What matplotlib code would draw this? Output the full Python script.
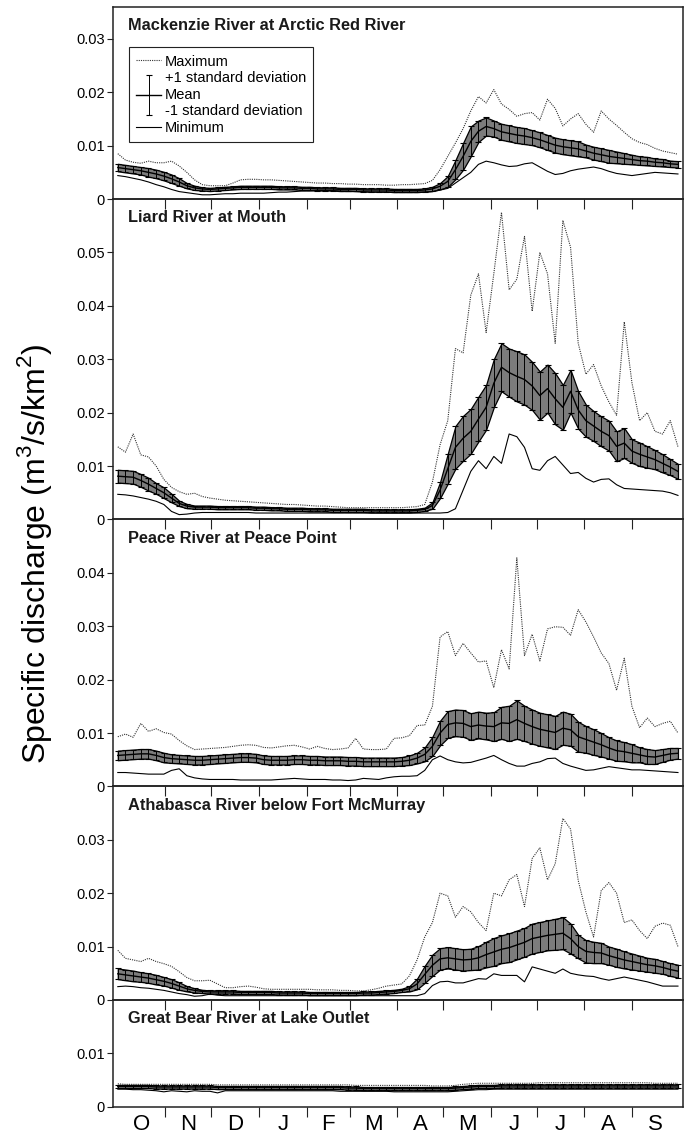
import numpy as np
import matplotlib
matplotlib.use("Agg")
import matplotlib.pyplot as plt
from matplotlib.container import ErrorbarContainer
from matplotlib.legend_handler import HandlerErrorbar

plt.rcParams["font.family"] = ["Liberation Sans", "DejaVu Sans"]
plt.rcParams["mathtext.fontset"] = "custom"
plt.rcParams["mathtext.rm"] = "Liberation Sans"

# day of the water year (0 = 1 October), read every 5 days
days = np.arange(0, 366, 5)

month_names = ["O", "N", "D", "J", "F", "M", "A", "M", "J", "J", "A", "S"]
month_starts = [0, 31, 61, 92, 123, 151, 182, 212, 243, 273, 304, 335, 365]

titles = ["Mackenzie River at Arctic Red River", "Liard River at Mouth",
          "Peace River at Peace Point", "Athabasca River below Fort McMurray",
          "Great Bear River at Lake Outlet"]
y_top = [0.036, 0.06, 0.05, 0.04, 0.02]
y_last_tick = [0.03, 0.05, 0.04, 0.03, 0.01]

# Mackenzie River at Arctic Red River
mk_max = [0.0085, 0.0073, 0.0069, 0.0067, 0.0071, 0.0068, 0.0068, 0.0071, 0.0062, 0.0050,
          0.0036, 0.0027, 0.0025, 0.0025, 0.0025, 0.0030, 0.0036, 0.0037, 0.0037, 0.0036,
          0.0036, 0.0035, 0.0034, 0.0033, 0.0032, 0.0031, 0.0030, 0.0030, 0.0029, 0.0029,
          0.0028, 0.0028, 0.0027, 0.0027, 0.0027, 0.0026, 0.0026, 0.0027, 0.0027, 0.0028,
          0.0029, 0.0035, 0.0055, 0.0080, 0.0105, 0.0132, 0.0165, 0.0192, 0.0180, 0.0205,
          0.0178, 0.0168, 0.0155, 0.0160, 0.0162, 0.0148, 0.0187, 0.0170, 0.0137, 0.0150,
          0.0160, 0.0140, 0.0125, 0.0165, 0.0150, 0.0138, 0.0125, 0.0113, 0.0106, 0.0102,
          0.0095, 0.0090, 0.0087, 0.0084]
mk_mean = [0.0059, 0.0057, 0.0055, 0.0053, 0.0050, 0.0047, 0.0043, 0.0038, 0.0032, 0.0025,
           0.0021, 0.0019, 0.0018, 0.0019, 0.0020, 0.0021, 0.0022, 0.0022, 0.0022, 0.0022,
           0.0022, 0.0021, 0.0021, 0.0021, 0.0020, 0.0020, 0.0019, 0.0019, 0.0019, 0.0018,
           0.0018, 0.0018, 0.0017, 0.0017, 0.0017, 0.0017, 0.0016, 0.0016, 0.0016, 0.0016,
           0.0017, 0.0019, 0.0024, 0.0033, 0.0055, 0.0080, 0.0108, 0.0127, 0.0136, 0.0132,
           0.0126, 0.0123, 0.0120, 0.0118, 0.0115, 0.0111, 0.0106, 0.0101, 0.0098, 0.0096,
           0.0094, 0.0090, 0.0086, 0.0083, 0.0080, 0.0078, 0.0076, 0.0074, 0.0072, 0.0071,
           0.0069, 0.0068, 0.0066, 0.0065]
mk_sd = [0.0007, 0.0007, 0.0007, 0.0007, 0.0008, 0.0008, 0.0008, 0.0008, 0.0007, 0.0005,
         0.0004, 0.0003, 0.0003, 0.0003, 0.0003, 0.0003, 0.0003, 0.0003, 0.0003, 0.0003,
         0.0003, 0.0003, 0.0003, 0.0003, 0.0003, 0.0003, 0.0003, 0.0003, 0.0003, 0.0003,
         0.0003, 0.0003, 0.0003, 0.0003, 0.0003, 0.0003, 0.0003, 0.0003, 0.0003, 0.0003,
         0.0003, 0.0004, 0.0006, 0.0010, 0.0018, 0.0025, 0.0028, 0.0020, 0.0017, 0.0015,
         0.0015, 0.0015, 0.0015, 0.0015, 0.0014, 0.0014, 0.0014, 0.0014, 0.0014, 0.0014,
         0.0014, 0.0012, 0.0012, 0.0012, 0.0012, 0.0011, 0.0010, 0.0009, 0.0008, 0.0008,
         0.0007, 0.0007, 0.0006, 0.0006]
mk_min = [0.0044, 0.0042, 0.0039, 0.0036, 0.0032, 0.0027, 0.0023, 0.0018, 0.0014, 0.0012,
          0.0010, 0.0008, 0.0008, 0.0009, 0.0010, 0.0010, 0.0011, 0.0011, 0.0011, 0.0011,
          0.0012, 0.0013, 0.0013, 0.0014, 0.0015, 0.0015, 0.0016, 0.0016, 0.0016, 0.0015,
          0.0015, 0.0014, 0.0014, 0.0013, 0.0013, 0.0013, 0.0013, 0.0013, 0.0013, 0.0013,
          0.0013, 0.0014, 0.0017, 0.0020, 0.0030, 0.0040, 0.0050, 0.0065, 0.0071, 0.0068,
          0.0064, 0.0061, 0.0062, 0.0066, 0.0068, 0.0060, 0.0052, 0.0046, 0.0048, 0.0053,
          0.0056, 0.0058, 0.0060, 0.0057, 0.0052, 0.0048, 0.0046, 0.0044, 0.0046, 0.0048,
          0.0050, 0.0049, 0.0048, 0.0047]

# Liard River at Mouth
li_max = [0.0136, 0.0126, 0.0160, 0.0121, 0.0117, 0.0100, 0.0075, 0.0060, 0.0052, 0.0047,
          0.0049, 0.0043, 0.0040, 0.0038, 0.0036, 0.0035, 0.0034, 0.0033, 0.0032, 0.0031,
          0.0030, 0.0029, 0.0028, 0.0028, 0.0027, 0.0026, 0.0025, 0.0025, 0.0024, 0.0023,
          0.0022, 0.0022, 0.0022, 0.0022, 0.0022, 0.0022, 0.0022, 0.0022, 0.0023, 0.0024,
          0.0028, 0.0070, 0.0140, 0.0185, 0.0320, 0.0312, 0.0420, 0.0460, 0.0350, 0.0460,
          0.0575, 0.0430, 0.0450, 0.0530, 0.0390, 0.0500, 0.0460, 0.0330, 0.0560, 0.0510,
          0.0330, 0.0272, 0.0290, 0.0250, 0.0220, 0.0195, 0.0370, 0.0256, 0.0185, 0.0200,
          0.0165, 0.0160, 0.0185, 0.0136]
li_mean = [0.0081, 0.0080, 0.0079, 0.0073, 0.0066, 0.0058, 0.0050, 0.0040, 0.0030, 0.0025,
           0.0023, 0.0023, 0.0023, 0.0022, 0.0022, 0.0022, 0.0022, 0.0022, 0.0021, 0.0021,
           0.0020, 0.0020, 0.0019, 0.0019, 0.0019, 0.0018, 0.0018, 0.0018, 0.0017, 0.0017,
           0.0017, 0.0017, 0.0017, 0.0016, 0.0016, 0.0016, 0.0016, 0.0016, 0.0016, 0.0017,
           0.0019, 0.0026, 0.0055, 0.0095, 0.0135, 0.0152, 0.0165, 0.0188, 0.0210, 0.0255,
           0.0285, 0.0275, 0.0268, 0.0262, 0.0250, 0.0232, 0.0245, 0.0226, 0.0210, 0.0240,
           0.0205, 0.0185, 0.0175, 0.0165, 0.0157, 0.0137, 0.0143, 0.0128, 0.0122, 0.0117,
           0.0112, 0.0105, 0.0098, 0.0090]
li_sd = [0.0012, 0.0012, 0.0012, 0.0012, 0.0012, 0.0010, 0.0010, 0.0008, 0.0005, 0.0004,
         0.0003, 0.0003, 0.0003, 0.0003, 0.0003, 0.0003, 0.0003, 0.0003, 0.0003, 0.0003,
         0.0003, 0.0003, 0.0003, 0.0003, 0.0003, 0.0003, 0.0003, 0.0003, 0.0003, 0.0003,
         0.0003, 0.0003, 0.0003, 0.0003, 0.0003, 0.0003, 0.0003, 0.0003, 0.0003, 0.0003,
         0.0003, 0.0006, 0.0015, 0.0028, 0.0040, 0.0042, 0.0042, 0.0042, 0.0042, 0.0045,
         0.0045, 0.0045, 0.0047, 0.0047, 0.0045, 0.0045, 0.0045, 0.0048, 0.0042, 0.0040,
         0.0035, 0.0030, 0.0028, 0.0028, 0.0028, 0.0028, 0.0028, 0.0022, 0.0022, 0.0020,
         0.0018, 0.0017, 0.0015, 0.0014]
li_min = [0.0047, 0.0046, 0.0044, 0.0041, 0.0038, 0.0034, 0.0028, 0.0015, 0.0009, 0.0010,
          0.0012, 0.0013, 0.0013, 0.0013, 0.0013, 0.0013, 0.0013, 0.0013, 0.0012, 0.0012,
          0.0012, 0.0012, 0.0012, 0.0012, 0.0012, 0.0012, 0.0012, 0.0012, 0.0012, 0.0012,
          0.0012, 0.0012, 0.0012, 0.0012, 0.0012, 0.0012, 0.0012, 0.0012, 0.0012, 0.0012,
          0.0012, 0.0012, 0.0012, 0.0013, 0.0020, 0.0055, 0.0090, 0.0110, 0.0095, 0.0118,
          0.0105, 0.0160, 0.0155, 0.0135, 0.0095, 0.0092, 0.0110, 0.0118, 0.0102, 0.0086,
          0.0088, 0.0077, 0.0070, 0.0075, 0.0076, 0.0065, 0.0058, 0.0057, 0.0056, 0.0055,
          0.0054, 0.0053, 0.0050, 0.0045]

# Peace River at Peace Point
pe_max = [0.0093, 0.0098, 0.0092, 0.0118, 0.0103, 0.0108, 0.0101, 0.0098, 0.0086, 0.0076,
          0.0069, 0.0070, 0.0071, 0.0072, 0.0073, 0.0075, 0.0077, 0.0078, 0.0077, 0.0073,
          0.0072, 0.0074, 0.0076, 0.0077, 0.0074, 0.0070, 0.0075, 0.0071, 0.0069, 0.0070,
          0.0072, 0.0090, 0.0070, 0.0069, 0.0069, 0.0070, 0.0090, 0.0091, 0.0095, 0.0114,
          0.0115, 0.0150, 0.0280, 0.0290, 0.0245, 0.0268, 0.0250, 0.0233, 0.0235, 0.0185,
          0.0256, 0.0220, 0.0428, 0.0245, 0.0285, 0.0235, 0.0295, 0.0299, 0.0298, 0.0283,
          0.0331, 0.0308, 0.0280, 0.0250, 0.0230, 0.0180, 0.0240, 0.0150, 0.0110, 0.0128,
          0.0112, 0.0118, 0.0122, 0.0100]
pe_mean = [0.0058, 0.0059, 0.0060, 0.0061, 0.0061, 0.0058, 0.0054, 0.0052, 0.0051, 0.0050,
           0.0049, 0.0049, 0.0050, 0.0051, 0.0052, 0.0053, 0.0054, 0.0054, 0.0053, 0.0050,
           0.0049, 0.0049, 0.0049, 0.0050, 0.0050, 0.0049, 0.0049, 0.0048, 0.0048, 0.0048,
           0.0047, 0.0047, 0.0046, 0.0046, 0.0046, 0.0046, 0.0046, 0.0047, 0.0049, 0.0053,
           0.0060, 0.0075, 0.0100, 0.0116, 0.0119, 0.0118, 0.0112, 0.0115, 0.0113, 0.0112,
           0.0119, 0.0118, 0.0125, 0.0118, 0.0112, 0.0107, 0.0104, 0.0101, 0.0109, 0.0106,
           0.0093, 0.0088, 0.0083, 0.0078, 0.0072, 0.0067, 0.0065, 0.0062, 0.0059, 0.0056,
           0.0055, 0.0058, 0.0061, 0.0062]
pe_sd = [0.0009, 0.0009, 0.0009, 0.0009, 0.0009, 0.0009, 0.0009, 0.0008, 0.0008, 0.0008,
         0.0008, 0.0008, 0.0008, 0.0008, 0.0008, 0.0008, 0.0008, 0.0008, 0.0008, 0.0008,
         0.0008, 0.0008, 0.0008, 0.0008, 0.0008, 0.0008, 0.0008, 0.0008, 0.0008, 0.0008,
         0.0008, 0.0008, 0.0008, 0.0008, 0.0008, 0.0008, 0.0008, 0.0008, 0.0009, 0.0010,
         0.0013, 0.0018, 0.0023, 0.0025, 0.0025, 0.0025, 0.0025, 0.0025, 0.0025, 0.0027,
         0.0030, 0.0033, 0.0036, 0.0033, 0.0032, 0.0031, 0.0031, 0.0031, 0.0031, 0.0030,
         0.0028, 0.0025, 0.0024, 0.0022, 0.0020, 0.0019, 0.0018, 0.0017, 0.0014, 0.0014,
         0.0013, 0.0012, 0.0011, 0.0010]
pe_min = [0.0026, 0.0026, 0.0025, 0.0024, 0.0023, 0.0023, 0.0023, 0.0030, 0.0033, 0.0020,
          0.0016, 0.0014, 0.0013, 0.0013, 0.0013, 0.0013, 0.0012, 0.0012, 0.0012, 0.0012,
          0.0012, 0.0013, 0.0014, 0.0015, 0.0014, 0.0013, 0.0013, 0.0013, 0.0012, 0.0012,
          0.0011, 0.0012, 0.0015, 0.0014, 0.0013, 0.0016, 0.0018, 0.0019, 0.0019, 0.0020,
          0.0030, 0.0050, 0.0057, 0.0050, 0.0046, 0.0044, 0.0045, 0.0049, 0.0053, 0.0058,
          0.0050, 0.0043, 0.0038, 0.0038, 0.0043, 0.0046, 0.0052, 0.0053, 0.0043, 0.0038,
          0.0034, 0.0030, 0.0031, 0.0034, 0.0037, 0.0035, 0.0033, 0.0031, 0.0031, 0.0030,
          0.0029, 0.0028, 0.0027, 0.0026]

# Athabasca River below Fort McMurray
at_max = [0.0093, 0.0078, 0.0075, 0.0072, 0.0078, 0.0072, 0.0068, 0.0063, 0.0053, 0.0042,
          0.0036, 0.0036, 0.0037, 0.0030, 0.0023, 0.0023, 0.0025, 0.0026, 0.0024, 0.0021,
          0.0020, 0.0020, 0.0020, 0.0020, 0.0020, 0.0020, 0.0019, 0.0019, 0.0019, 0.0018,
          0.0018, 0.0017, 0.0017, 0.0019, 0.0022, 0.0026, 0.0028, 0.0030, 0.0045, 0.0075,
          0.0118, 0.0145, 0.0200, 0.0195, 0.0155, 0.0175, 0.0165, 0.0145, 0.0130, 0.0200,
          0.0195, 0.0225, 0.0235, 0.0175, 0.0265, 0.0285, 0.0225, 0.0255, 0.0340, 0.0320,
          0.0224, 0.0165, 0.0118, 0.0205, 0.0220, 0.0200, 0.0145, 0.0150, 0.0130, 0.0115,
          0.0138, 0.0144, 0.0140, 0.0100]
at_mean = [0.0049, 0.0047, 0.0045, 0.0043, 0.0041, 0.0038, 0.0035, 0.0031, 0.0026, 0.0021,
           0.0018, 0.0016, 0.0015, 0.0015, 0.0015, 0.0015, 0.0014, 0.0014, 0.0014, 0.0014,
           0.0014, 0.0013, 0.0013, 0.0013, 0.0013, 0.0012, 0.0012, 0.0012, 0.0012, 0.0012,
           0.0012, 0.0012, 0.0013, 0.0013, 0.0014, 0.0015, 0.0016, 0.0018, 0.0021, 0.0030,
           0.0048, 0.0065, 0.0077, 0.0079, 0.0077, 0.0075, 0.0076, 0.0079, 0.0085, 0.0090,
           0.0095, 0.0098, 0.0103, 0.0108, 0.0115, 0.0118, 0.0121, 0.0123, 0.0125, 0.0115,
           0.0100, 0.0091, 0.0089, 0.0088, 0.0083, 0.0079, 0.0075, 0.0072, 0.0069, 0.0066,
           0.0064, 0.0061, 0.0057, 0.0054]
at_sd = [0.0010, 0.0010, 0.0010, 0.0009, 0.0009, 0.0009, 0.0008, 0.0008, 0.0007, 0.0005,
         0.0004, 0.0003, 0.0003, 0.0003, 0.0003, 0.0003, 0.0003, 0.0003, 0.0003, 0.0003,
         0.0003, 0.0003, 0.0003, 0.0003, 0.0003, 0.0003, 0.0003, 0.0003, 0.0003, 0.0003,
         0.0003, 0.0003, 0.0003, 0.0003, 0.0003, 0.0003, 0.0003, 0.0003, 0.0005, 0.0010,
         0.0016, 0.0020, 0.0020, 0.0020, 0.0020, 0.0020, 0.0020, 0.0022, 0.0024, 0.0026,
         0.0026, 0.0027, 0.0027, 0.0027, 0.0028, 0.0028, 0.0028, 0.0029, 0.0030, 0.0028,
         0.0022, 0.0021, 0.0020, 0.0019, 0.0017, 0.0017, 0.0016, 0.0015, 0.0014, 0.0013,
         0.0013, 0.0012, 0.0012, 0.0012]
at_min = [0.0025, 0.0026, 0.0025, 0.0023, 0.0022, 0.0020, 0.0018, 0.0015, 0.0012, 0.0010,
          0.0007, 0.0008, 0.0011, 0.0009, 0.0008, 0.0008, 0.0008, 0.0008, 0.0008, 0.0008,
          0.0008, 0.0008, 0.0008, 0.0008, 0.0008, 0.0008, 0.0008, 0.0008, 0.0008, 0.0008,
          0.0008, 0.0008, 0.0008, 0.0008, 0.0008, 0.0008, 0.0008, 0.0008, 0.0008, 0.0008,
          0.0012, 0.0027, 0.0034, 0.0035, 0.0032, 0.0032, 0.0036, 0.0040, 0.0039, 0.0049,
          0.0046, 0.0046, 0.0046, 0.0034, 0.0062, 0.0058, 0.0054, 0.0050, 0.0058, 0.0050,
          0.0047, 0.0045, 0.0044, 0.0040, 0.0037, 0.0040, 0.0043, 0.0040, 0.0037, 0.0034,
          0.0030, 0.0026, 0.0026, 0.0026]

# Great Bear River at Lake Outlet
gb_max = [0.0043, 0.0042, 0.0042, 0.0042, 0.0042, 0.0042, 0.0042, 0.0042, 0.0042, 0.0042,
          0.0042, 0.0042, 0.0042, 0.0041, 0.0041, 0.0041, 0.0041, 0.0041, 0.0041, 0.0041,
          0.0041, 0.0041, 0.0041, 0.0041, 0.0041, 0.0041, 0.0041, 0.0041, 0.0041, 0.0041,
          0.0041, 0.0040, 0.0040, 0.0040, 0.0040, 0.0040, 0.0040, 0.0040, 0.0040, 0.0040,
          0.0040, 0.0039, 0.0039, 0.0039, 0.0040, 0.0042, 0.0043, 0.0044, 0.0044, 0.0044,
          0.0044, 0.0044, 0.0044, 0.0044, 0.0044, 0.0045, 0.0045, 0.0045, 0.0045, 0.0045,
          0.0045, 0.0045, 0.0045, 0.0045, 0.0045, 0.0045, 0.0045, 0.0045, 0.0045, 0.0045,
          0.0044, 0.0044, 0.0044, 0.0044]
gb_mean = [0.0038, 0.0038, 0.0038, 0.0038, 0.0038, 0.0037, 0.0037, 0.0037, 0.0037, 0.0037,
           0.0037, 0.0037, 0.0037, 0.0036, 0.0036, 0.0036, 0.0036, 0.0036, 0.0036, 0.0036,
           0.0036, 0.0036, 0.0036, 0.0036, 0.0036, 0.0036, 0.0036, 0.0036, 0.0036, 0.0036,
           0.0035, 0.0035, 0.0034, 0.0034, 0.0034, 0.0034, 0.0034, 0.0034, 0.0034, 0.0034,
           0.0034, 0.0034, 0.0034, 0.0034, 0.0035, 0.0036, 0.0037, 0.0038, 0.0038, 0.0038,
           0.0039, 0.0039, 0.0039, 0.0039, 0.0039, 0.0039, 0.0039, 0.0039, 0.0039, 0.0039,
           0.0039, 0.0039, 0.0039, 0.0039, 0.0039, 0.0039, 0.0039, 0.0039, 0.0039, 0.0039,
           0.0039, 0.0039, 0.0039, 0.0039]
gb_sd = [0.0003, 0.0003, 0.0003, 0.0003, 0.0003, 0.0003, 0.0003, 0.0003, 0.0003, 0.0003,
         0.0003, 0.0003, 0.0003, 0.0003, 0.0003, 0.0003, 0.0003, 0.0003, 0.0003, 0.0003,
         0.0003, 0.0003, 0.0003, 0.0003, 0.0003, 0.0003, 0.0003, 0.0003, 0.0003, 0.0003,
         0.0003, 0.0003, 0.0003, 0.0003, 0.0003, 0.0003, 0.0003, 0.0003, 0.0003, 0.0003,
         0.0003, 0.0003, 0.0003, 0.0003, 0.0003, 0.0003, 0.0003, 0.0003, 0.0003, 0.0003,
         0.0003, 0.0003, 0.0003, 0.0003, 0.0003, 0.0003, 0.0003, 0.0003, 0.0003, 0.0003,
         0.0003, 0.0003, 0.0003, 0.0003, 0.0003, 0.0003, 0.0003, 0.0003, 0.0003, 0.0003,
         0.0003, 0.0003, 0.0003, 0.0003]
gb_min = [0.0033, 0.0033, 0.0032, 0.0032, 0.0031, 0.0030, 0.0028, 0.0030, 0.0029, 0.0028,
          0.0030, 0.0029, 0.0029, 0.0026, 0.0030, 0.0030, 0.0030, 0.0030, 0.0030, 0.0030,
          0.0030, 0.0030, 0.0030, 0.0030, 0.0030, 0.0030, 0.0030, 0.0030, 0.0030, 0.0029,
          0.0029, 0.0029, 0.0029, 0.0029, 0.0029, 0.0029, 0.0028, 0.0028, 0.0028, 0.0028,
          0.0028, 0.0028, 0.0028, 0.0028, 0.0029, 0.0030, 0.0031, 0.0032, 0.0032, 0.0033,
          0.0033, 0.0033, 0.0033, 0.0033, 0.0033, 0.0033, 0.0033, 0.0033, 0.0033, 0.0033,
          0.0033, 0.0033, 0.0033, 0.0033, 0.0033, 0.0033, 0.0033, 0.0033, 0.0033, 0.0033,
          0.0033, 0.0033, 0.0033, 0.0033]

stations = [(mk_max, mk_mean, mk_sd, mk_min),
            (li_max, li_mean, li_sd, li_min),
            (pe_max, pe_mean, pe_sd, pe_min),
            (at_max, at_mean, at_sd, at_min),
            (gb_max, gb_mean, gb_sd, gb_min)]

fig = plt.figure(figsize=(6.86, 11.41), dpi=100)
gs = fig.add_gridspec(5, 1, height_ratios=y_top, hspace=0,
                      left=0.165, right=0.995, top=0.994, bottom=0.030)

spine_col = "#222222"
for i, (vmax, vmean, vsd, vmin) in enumerate(stations):
    ax = fig.add_subplot(gs[i])
    ax.set_facecolor("none")
    vmean = np.array(vmean)
    vsd = np.array(vsd)

    # shaded +/- 1 sd band, outlined in black like the dense caps in the original
    ax.fill_between(days, vmean - vsd, vmean + vsd, facecolor="#7c7c7c",
                    edgecolor="black", lw=0.9, zorder=1)
    eb = ax.errorbar(days, vmean, yerr=vsd, fmt="-", color="black", lw=1.0,
                     ecolor="black", elinewidth=0.7, capsize=2.0, capthick=0.8, zorder=3)
    ln_min, = ax.plot(days, vmin, color="black", lw=0.8, zorder=2)
    ln_max, = ax.plot(days, vmax, color="#333333", lw=0.8, ls=(0, (1, 1)), zorder=2)

    ax.set_xlim(-3, 368)
    ax.set_ylim(0, y_top[i])
    yt = np.round(np.arange(0, y_last_tick[i] + 0.001, 0.01), 2)
    ax.set_yticks(yt)
    ax.set_yticklabels(["0" if t == 0 else f"{t:.2f}" for t in yt], fontsize=10.5)
    ax.tick_params(axis="y", direction="out", length=4, width=0.8, color=spine_col, pad=2)

    ax.set_xticks(month_starts[1:-1])
    ax.set_xticklabels([])
    ax.tick_params(axis="x", which="major", direction="out", length=7, width=0.8, color=spine_col)
    for s in ax.spines.values():
        s.set_color(spine_col)
        s.set_linewidth(1.1)

    ax.annotate(titles[i], xy=(0, 1), xycoords="axes fraction", xytext=(11, -8),
                textcoords="offset points", ha="left", va="top",
                fontsize=11.8, fontweight="bold", color="#1a1a1a")

    if i == 0:
        ax.legend([ln_max, eb, ln_min],
                  ["Maximum", "+1 standard deviation\nMean\n-1 standard deviation", "Minimum"],
                  handler_map={ErrorbarContainer: HandlerErrorbar(xerr_size=0.5, yerr_size=1.4)},
                  loc="upper left", bbox_to_anchor=(0.028, 0.79), borderaxespad=0,
                  fontsize=10.5, handlelength=1.7, handletextpad=0.25, labelspacing=0.2,
                  borderpad=0.5, fancybox=False, edgecolor="#222222", framealpha=1)
        ax.get_legend().get_frame().set_linewidth(0.8)

    if i == len(stations) - 1:
        mids = [(a + b) / 2 for a, b in zip(month_starts[:-1], month_starts[1:])]
        ax.set_xticks(mids, minor=True)
        ax.set_xticklabels(month_names, minor=True, fontsize=16)
        ax.tick_params(axis="x", which="minor", length=0, pad=5)

fig.text(0.05, 0.515, "Specific discharge (m$^3$/s/km$^2$)", rotation=90,
         ha="center", va="center", fontsize=23)

fig.savefig("out.png", dpi=100)
